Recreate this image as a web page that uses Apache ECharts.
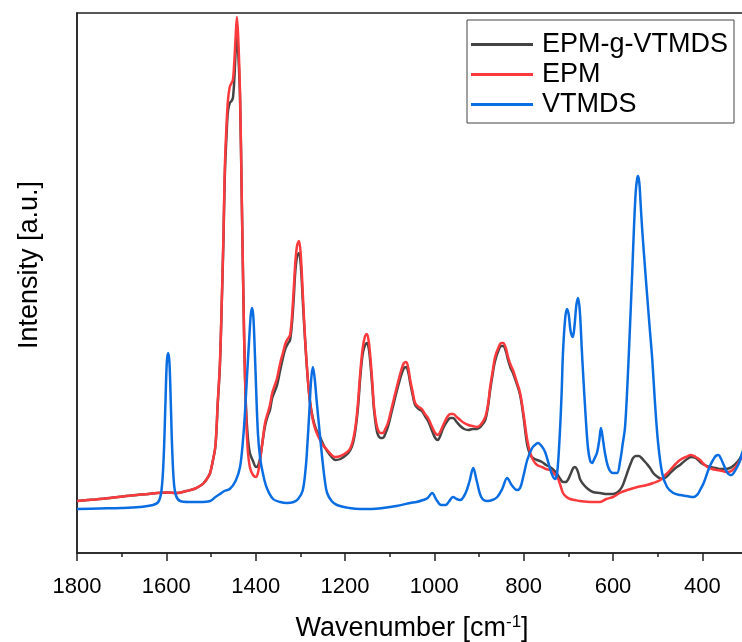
<!DOCTYPE html>
<html>
<head>
<meta charset="utf-8">
<title>Raman spectra</title>
<script src="https://cdn.jsdelivr.net/npm/echarts@6/dist/echarts.min.js"></script>
<style>
  html, body { margin: 0; padding: 0; background: #fff; }
  #chart { width: 742px; height: 642px; }
</style>
</head>
<body>
<div id="chart"></div>
<script>
// Spectra: wavenumber (cm^-1) and intensity (a.u.) for each sample
const seriesNames = ['EPM-g-VTMDS', 'EPM', 'VTMDS'];

const epmGWn = [1800,1760,1726,1690,1666,1640,1621,1600,1576,1555,1538,1525,1516,1508,1502,1496,1490,1485,1480,1476,1472,1469,1465,1462,1458,1454,1451,1448,1445,1442,1439,1435,1431,1426,1422,1418,1413,1406,1399,1394,1390,1385,1379,1373,1368,1363,1357,1352,1345,1339,1333,1327,1323,1319,1315,1311,1307,1303,1299,1294,1289,1283,1278,1272,1265,1256,1248,1240,1230,1222,1210,1195,1188,1182,1176,1171,1165,1160,1155,1151,1147,1144,1139,1135,1130,1126,1120,1115,1110,1104,1094,1084,1074,1068,1063,1058,1054,1048,1043,1035,1028,1021,1014,1005,998,992,986,980,971,964,958,950,942,933,924,914,904,895,886,880,875,869,864,856,850,846,840,835,830,824,816,808,800,792,785,779,770,759,750,741,733,725,718,712,706,700,694,689,685,681,677,674,667,656,645,629,613,600,589,580,573,566,560,555,549,542,536,530,524,517,510,500,490,481,472,460,450,437,425,415,405,395,382,370,360,350,338,326,318,311,300];
const epmGVal = [52,53.5,55,57,58,59,60,60.5,60,62,64,67,70,75,80,92,107,148,188,248,315,378,420,442,450,452,455,472,500,518,500,455,350,220,150,118,100,92,86,88,95,110,127,137,143,155,162,168,183,195,205,210,213,228,253,283,297,300,288,248,210,172,150,135,124,116,108,102,96,93,94,99,103,110,125,145,180,200,208,210,205,194,167,143,125,118,115,115,119,126,144,162,178,185,186,180,170,157,148,144,142,137,132,122,115,113,118,125,132,135,135,131,127,124,123,124,124,127,133,146,163,180,192,203,207,207,202,193,186,180,170,158,135,108,98,95,93,91,88,86,83,79,74,71,71,74,80,85,86,84,79,74,69,64,61,60,59,59,61,66,74,83,90,95,97,97,95,92,89,85,80,76,74,76,80,85,88,93,96,95,91,88,86,85,84,84,85,89,93,98,104];

const epmWn = [1800,1760,1726,1690,1666,1640,1621,1600,1576,1555,1538,1525,1516,1508,1502,1496,1490,1485,1480,1476,1472,1469,1465,1462,1458,1454,1451,1448,1445,1442,1439,1435,1431,1426,1422,1418,1413,1406,1399,1394,1390,1385,1379,1373,1368,1363,1357,1352,1345,1339,1333,1327,1323,1319,1315,1311,1307,1303,1299,1294,1289,1283,1278,1272,1265,1256,1248,1240,1230,1222,1210,1195,1188,1182,1176,1171,1165,1160,1155,1151,1147,1144,1139,1135,1130,1126,1120,1115,1110,1104,1094,1084,1074,1068,1063,1058,1054,1048,1043,1035,1028,1021,1014,1005,998,992,986,980,971,964,958,950,942,933,924,914,904,895,886,880,875,869,864,856,850,846,840,835,830,824,816,808,800,792,785,779,770,759,750,741,733,725,718,712,704,696,685,674,650,629,615,600,585,568,545,524,510,494,483,472,460,450,437,425,415,405,397,389,378,367,355,344,335,326,318,311,300];
const epmVal = [52,53.5,55,57,58,59,60,60.5,60,62,64,67,70,75,80,92,108,150,190,250,320,386,430,453,466,470,473,490,515,536,515,460,353,220,145,105,86,78,76,82,93,110,130,140,148,160,168,175,190,200,210,215,218,235,262,292,308,312,298,255,212,173,150,133,122,113,107,103,98,96,97,101,105,113,128,150,185,206,217,219,212,200,172,146,130,123,120,120,124,130,148,166,183,190,191,184,173,160,150,146,144,139,135,126,120,118,122,128,136,139,139,136,133,130,128,127,126,129,136,148,166,183,196,206,210,210,205,196,189,183,172,160,138,113,100,93,88,86,84,83,80,76,68,60,56,54,53,52,51,51,54,56,60,63,66,68,70,73,78,83,89,93,96,98,96,93,89,86,84,83,82,81,82,86,91,96,102];

const vtmdsWn = [1800,1750,1700,1660,1630,1618,1611,1606,1602,1599,1596,1593,1590,1587,1583,1578,1569,1550,1525,1502,1490,1480,1470,1458,1445,1435,1428,1424,1419,1415,1411,1408,1405,1401,1395,1390,1384,1375,1361,1345,1330,1315,1305,1295,1288,1284,1280,1276,1272,1268,1263,1257,1251,1245,1240,1230,1218,1190,1166,1140,1115,1085,1054,1040,1025,1015,1005,995,985,975,968,958,950,942,930,921,913,905,895,882,870,859,848,837,827,815,808,800,792,781,772,768,760,752,742,736,730,725,719,715,712,707,703,699,695,690,686,682,678,674,670,667,661,656,651,647,642,636,631,627,622,618,610,600,591,584,578,573,567,562,557,553,549,546,544,541,538,535,530,524,518,512,506,499,490,479,465,450,435,420,410,405,397,389,382,376,370,364,358,352,345,338,335,330,322,316,311,300];
const vtmdsVal = [44,44.5,45,46,48,51,62,95,150,190,200,190,150,105,70,57,52,51,51,52,56,59,62,64,72,86,115,140,180,210,238,245,235,190,120,95,80,65,54,51,50,51,54,62,85,110,140,172,186,175,150,122,95,72,60,52,48,45,44,44,45,47,50,51,53,55,60,53,48,48,51,56,54,53,60,72,85,72,56,52,53,56,64,75,68,63,65,78,93,105,109,110,107,101,86,78,74,80,120,160,200,235,244,238,222,216,228,248,255,240,205,180,135,105,92,90,94,100,112,125,112,100,85,80,80,92,110,126,175,226,280,326,362,374,377,370,348,326,295,260,226,193,150,110,80,66,60,58,57,56,59,63,70,80,88,93,97,98,94,88,81,78,78,80,86,92,100,110];

// Axis tick positions
const majorTicks = [400, 600, 800, 1000, 1200, 1400, 1600, 1800];
const minorTicks = [500, 700, 900, 1100, 1300, 1500, 1700];

const seriesColors = ['#444444', '#fb3a3e', '#0a6de2'];

function pairs(wn, val) {
  return wn.map((w, i) => [w, val[i]]);
}

const FONT = "'Liberation Sans', Arial, sans-serif";
const chart = echarts.init(document.getElementById('chart'), null, { renderer: 'canvas' });

const axisBase = {
  type: 'value',
  min: 300,
  max: 1800,
  inverse: true,
  splitLine: { show: false }
};

chart.setOption({
  animation: false,
  backgroundColor: '#ffffff',
  grid: {
    left: 77,
    top: 13,
    width: 670,
    height: 540,
    outerBoundsMode: 'none',
    containLabel: false,
    show: true,
    borderColor: '#222',
    borderWidth: 1.5
  },
  legend: {
    data: seriesNames,
    orient: 'vertical',
    left: 467,
    top: 20,
    padding: [11, 6, 5, 4],
    itemGap: 3,
    itemWidth: 62,
    itemHeight: 3,
    icon: 'rect',
    backgroundColor: '#fff',
    borderColor: '#444',
    borderWidth: 1,
    textStyle: { fontFamily: FONT, fontSize: 27, color: '#000', padding: [0, 0, 0, 4] }
  },
  xAxis: [
    Object.assign({}, axisBase, {
      position: 'bottom',
      name: 'Wavenumber [cm{sup|-1}]',
      nameLocation: 'middle',
      nameGap: 61,
      nameTextStyle: {
        fontFamily: FONT, fontSize: 27, color: '#000',
        rich: { sup: { fontFamily: FONT, fontSize: 17, color: '#000', padding: [0, 0, 12, 0] } }
      },
      axisLine: { show: true, lineStyle: { color: '#222', width: 1.5 } },
      axisTick: { show: true, customValues: majorTicks, length: 8, lineStyle: { color: '#222', width: 1.5 } },
      axisLabel: {
        show: true, customValues: majorTicks, margin: 23,
        fontFamily: FONT, fontSize: 22, color: '#000',
        formatter: v => String(v)
      }
    }),
    Object.assign({}, axisBase, {
      position: 'bottom',
      axisLine: { show: false },
      axisTick: { show: true, customValues: minorTicks, length: 4, lineStyle: { color: '#222', width: 1.5 } },
      axisLabel: { show: false }
    })
  ],
  yAxis: {
    type: 'value',
    min: 0,
    max: 540,
    name: 'Intensity [a.u.]',
    nameLocation: 'middle',
    nameGap: 34,
    nameTextStyle: { fontFamily: FONT, fontSize: 27, color: '#000', padding: [0, 0, 0, 36] },
    axisLine: { show: true, lineStyle: { color: '#222', width: 1.5 } },
    axisTick: { show: false },
    axisLabel: { show: false },
    splitLine: { show: false }
  },
  series: [
    { name: seriesNames[0], data: pairs(epmGWn, epmGVal) },
    { name: seriesNames[1], data: pairs(epmWn, epmVal) },
    { name: seriesNames[2], data: pairs(vtmdsWn, vtmdsVal) }
  ].map((s, i) => Object.assign(s, {
    type: 'line',
    xAxisIndex: 0,
    smooth: 0.35,
    showSymbol: false,
    clip: true,
    color: seriesColors[i],
    lineStyle: { color: seriesColors[i], width: 2.5 },
    z: 2 + i
  }))
});
</script>
</body>
</html>
